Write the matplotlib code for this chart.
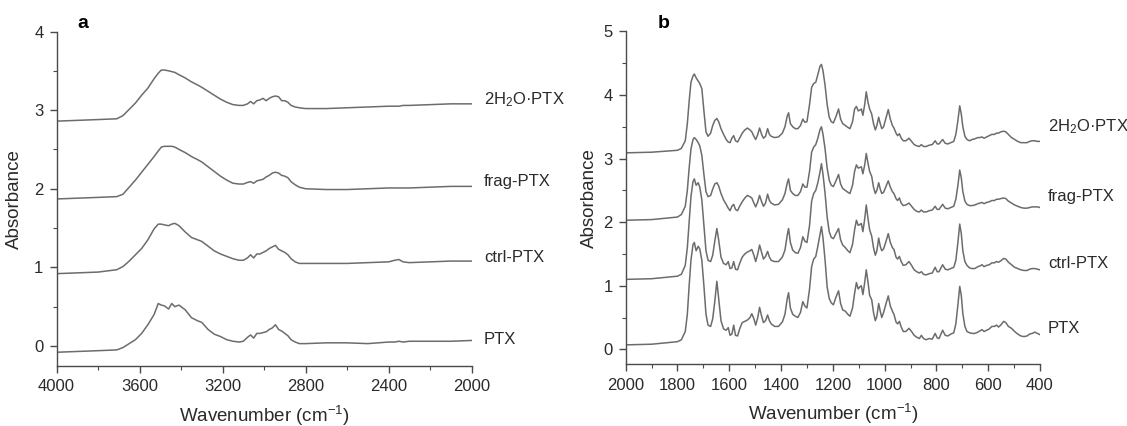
#!/usr/bin/env python
import matplotlib
matplotlib.use("Agg")
import matplotlib.pyplot as plt
from matplotlib.ticker import MultipleLocator

plt.rcParams['font.family'] = ['Liberation Sans', 'DejaVu Sans']
plt.rcParams['mathtext.default'] = 'regular'

# ---- panel a : 4000-2000 cm-1 ----
wn_a = [4000, 3900, 3800, 3710, 3680, 3650, 3620, 3590, 3560, 3530,
        3510, 3495, 3480, 3460, 3445, 3430, 3410, 3380, 3350, 3320,
        3300, 3270, 3240, 3210, 3180, 3150, 3120, 3100, 3080, 3065,
        3050, 3035, 3020, 3005, 2990, 2975, 2960, 2945, 2930, 2915,
        2900, 2885, 2870, 2850, 2830, 2800, 2700, 2600, 2500, 2400,
        2370, 2350, 2330, 2300, 2200, 2100, 2000]

ptx_a = [-0.08, -0.07, -0.06, -0.05, -0.02, 0.03, 0.08, 0.16, 0.27, 0.40,
         0.54, 0.52, 0.51, 0.47, 0.54, 0.50, 0.52, 0.46, 0.36, 0.32,
         0.30, 0.21, 0.15, 0.12, 0.08, 0.06, 0.05, 0.06, 0.11, 0.14,
         0.10, 0.16, 0.16, 0.17, 0.18, 0.21, 0.23, 0.27, 0.21, 0.19,
         0.16, 0.13, 0.08, 0.05, 0.03, 0.03, 0.04, 0.04, 0.03, 0.05,
         0.05, 0.06, 0.05, 0.06, 0.06, 0.06, 0.07]

ctrl_a = [0.92, 0.93, 0.94, 0.97, 1.01, 1.08, 1.16, 1.24, 1.35, 1.49,
          1.55, 1.55, 1.54, 1.53, 1.55, 1.56, 1.53, 1.45, 1.38, 1.35,
          1.33, 1.27, 1.21, 1.17, 1.14, 1.11, 1.09, 1.09, 1.12, 1.16,
          1.12, 1.17, 1.17, 1.19, 1.21, 1.24, 1.26, 1.28, 1.23, 1.21,
          1.19, 1.16, 1.11, 1.07, 1.05, 1.05, 1.05, 1.05, 1.06, 1.07,
          1.09, 1.10, 1.07, 1.06, 1.07, 1.08, 1.08]

frag_a = [1.87, 1.88, 1.89, 1.90, 1.93, 2.02, 2.11, 2.21, 2.31, 2.41,
          2.48, 2.53, 2.54, 2.54, 2.54, 2.53, 2.50, 2.46, 2.41, 2.37,
          2.34, 2.28, 2.22, 2.16, 2.11, 2.07, 2.06, 2.06, 2.08, 2.09,
          2.07, 2.10, 2.11, 2.12, 2.15, 2.17, 2.20, 2.21, 2.20, 2.17,
          2.16, 2.14, 2.09, 2.05, 2.02, 2.00, 1.99, 1.99, 2.00, 2.01,
          2.01, 2.01, 2.01, 2.01, 2.02, 2.03, 2.03]

h2o_a = [2.86, 2.87, 2.88, 2.89, 2.93, 3.01, 3.09, 3.19, 3.28, 3.40,
         3.47, 3.51, 3.51, 3.50, 3.49, 3.48, 3.45, 3.41, 3.36, 3.32,
         3.29, 3.24, 3.19, 3.14, 3.10, 3.07, 3.06, 3.06, 3.08, 3.11,
         3.08, 3.12, 3.13, 3.15, 3.12, 3.15, 3.17, 3.18, 3.17, 3.12,
         3.12, 3.10, 3.06, 3.04, 3.03, 3.02, 3.02, 3.03, 3.04, 3.05,
         3.05, 3.05, 3.06, 3.06, 3.07, 3.08, 3.08]

# ---- panel b : 2000-400 cm-1 ----
wn_b = [2000, 1900, 1800, 1785, 1770, 1762, 1755, 1748, 1740, 1735,
        1728, 1720, 1714, 1706, 1698, 1690, 1682, 1672, 1664, 1656,
        1648, 1641, 1632, 1622, 1612, 1604, 1597, 1590, 1583, 1576,
        1568, 1560, 1550, 1540, 1530, 1520, 1513, 1505, 1498, 1490,
        1483, 1475, 1468, 1460, 1452, 1445, 1438, 1425, 1410, 1395,
        1385, 1376, 1371, 1364, 1355, 1345, 1335, 1325, 1316, 1308,
        1300, 1290, 1282, 1274, 1266, 1258, 1250, 1244, 1238, 1230,
        1222, 1214, 1206, 1198, 1188, 1178, 1170, 1162, 1152, 1142,
        1134, 1124, 1116, 1109, 1102, 1096, 1090, 1084, 1077, 1071,
        1064, 1058, 1050, 1043, 1036, 1030, 1023, 1017, 1011, 1004,
        996, 986, 978, 970, 964, 956, 950, 943, 936, 928,
        918, 906, 896, 886, 876, 866, 858, 850, 840, 828,
        816, 805, 797, 790, 776, 766, 756, 744, 733, 725,
        717, 710, 704, 698, 690, 682, 672, 662, 652, 640,
        632, 624, 616, 606, 596, 586, 576, 568, 560, 552,
        540, 532, 522, 510, 498, 486, 474, 462, 450, 440,
        430, 420, 410, 400]

ptx_b = [0.07, 0.08, 0.12, 0.15, 0.28, 0.55, 1.00, 1.40, 1.65, 1.68,
         1.55, 1.62, 1.58, 1.40, 1.00, 0.55, 0.38, 0.36, 0.48, 0.75,
         1.07, 0.80, 0.45, 0.32, 0.30, 0.34, 0.22, 0.24, 0.38, 0.22,
         0.21, 0.32, 0.42, 0.44, 0.46, 0.50, 0.56, 0.48, 0.38, 0.50,
         0.66, 0.52, 0.42, 0.45, 0.54, 0.45, 0.40, 0.36, 0.36, 0.43,
         0.55, 0.80, 0.89, 0.65, 0.55, 0.52, 0.50, 0.58, 0.75, 0.68,
         0.65, 0.95, 1.30, 1.42, 1.46, 1.62, 1.80, 1.93, 1.75, 1.40,
         0.98, 0.80, 0.73, 0.70, 0.82, 0.92, 0.72, 0.62, 0.60, 0.55,
         0.52, 0.65, 0.88, 1.05, 0.95, 0.98, 1.00, 0.86, 1.05, 1.25,
         1.05, 0.85, 0.78, 0.58, 0.45, 0.52, 0.72, 0.60, 0.50, 0.58,
         0.70, 0.84, 0.68, 0.60, 0.55, 0.43, 0.40, 0.44, 0.35, 0.28,
         0.28, 0.33, 0.28, 0.22, 0.19, 0.17, 0.22, 0.17, 0.15, 0.17,
         0.16, 0.25, 0.18, 0.17, 0.30, 0.22, 0.21, 0.24, 0.26, 0.40,
         0.70, 0.99, 0.85, 0.56, 0.36, 0.28, 0.26, 0.25, 0.25, 0.27,
         0.29, 0.31, 0.28, 0.30, 0.32, 0.36, 0.36, 0.38, 0.35, 0.38,
         0.44, 0.42, 0.36, 0.33, 0.28, 0.24, 0.21, 0.20, 0.21, 0.24,
         0.25, 0.27, 0.25, 0.23]

ctrl_b = [1.10, 1.11, 1.15, 1.18, 1.32, 1.60, 2.00, 2.40, 2.64, 2.68,
          2.58, 2.62, 2.55, 2.35, 1.95, 1.55, 1.40, 1.38, 1.48, 1.70,
          1.90, 1.72, 1.45, 1.35, 1.33, 1.38, 1.27, 1.28, 1.38, 1.26,
          1.25, 1.35, 1.45, 1.50, 1.53, 1.55, 1.57, 1.48, 1.38, 1.50,
          1.64, 1.52, 1.42, 1.46, 1.54, 1.45, 1.40, 1.38, 1.38, 1.45,
          1.56, 1.80, 1.90, 1.68, 1.56, 1.52, 1.51, 1.60, 1.77, 1.70,
          1.68, 1.95, 2.33, 2.45, 2.50, 2.62, 2.78, 2.92, 2.75, 2.45,
          2.08, 1.85, 1.76, 1.74, 1.82, 1.90, 1.72, 1.64, 1.60, 1.55,
          1.52, 1.65, 1.88, 2.03, 1.95, 1.96, 1.98, 1.85, 2.05, 2.27,
          2.05, 1.88, 1.78, 1.60, 1.48, 1.55, 1.75, 1.62, 1.55, 1.58,
          1.68, 1.82, 1.68, 1.60, 1.57, 1.45, 1.42, 1.46, 1.38, 1.32,
          1.33, 1.38, 1.32, 1.25, 1.22, 1.20, 1.22, 1.18, 1.17, 1.19,
          1.20, 1.29, 1.22, 1.22, 1.33, 1.26, 1.25, 1.27, 1.29, 1.40,
          1.68, 1.97, 1.82, 1.55, 1.38, 1.32, 1.28, 1.27, 1.27, 1.30,
          1.31, 1.33, 1.30, 1.32, 1.33, 1.36, 1.36, 1.38, 1.37, 1.39,
          1.43, 1.42, 1.37, 1.33, 1.29, 1.27, 1.25, 1.24, 1.24, 1.26,
          1.27, 1.27, 1.26, 1.25]

frag_b = [2.03, 2.04, 2.08, 2.12, 2.25, 2.50, 2.85, 3.15, 3.30, 3.33,
          3.30, 3.25, 3.20, 3.05, 2.75, 2.48, 2.40, 2.42, 2.52, 2.60,
          2.62, 2.57, 2.45, 2.35, 2.28, 2.22, 2.18, 2.25, 2.28, 2.20,
          2.18, 2.25, 2.32, 2.38, 2.42, 2.40, 2.38, 2.30, 2.24, 2.32,
          2.42, 2.32, 2.25, 2.30, 2.44, 2.34, 2.30, 2.27, 2.28, 2.35,
          2.45, 2.62, 2.68, 2.50, 2.45, 2.42, 2.42, 2.48, 2.60, 2.55,
          2.55, 2.80, 3.10, 3.18, 3.22, 3.32, 3.45, 3.50, 3.38, 3.15,
          2.85, 2.66, 2.58, 2.56, 2.65, 2.75, 2.60, 2.53, 2.50, 2.47,
          2.45, 2.58, 2.80, 2.90, 2.85, 2.86, 2.87, 2.76, 2.90, 3.08,
          2.92, 2.80, 2.72, 2.55, 2.45, 2.50, 2.62, 2.52, 2.45, 2.47,
          2.55, 2.65, 2.55, 2.48, 2.45, 2.37, 2.34, 2.38, 2.30, 2.26,
          2.27, 2.30, 2.25, 2.20, 2.17, 2.16, 2.19, 2.16, 2.16, 2.18,
          2.19, 2.25, 2.20, 2.20, 2.28, 2.22, 2.21, 2.23, 2.25, 2.36,
          2.58, 2.82, 2.70, 2.48, 2.33, 2.28, 2.26, 2.26, 2.27, 2.29,
          2.30, 2.31, 2.29, 2.31, 2.32, 2.34, 2.34, 2.36, 2.36, 2.37,
          2.38, 2.37, 2.33, 2.30, 2.27, 2.25, 2.23, 2.22, 2.22, 2.23,
          2.24, 2.24, 2.24, 2.23]

h2o_b = [3.09, 3.10, 3.13, 3.16, 3.28, 3.55, 3.90, 4.20, 4.30, 4.33,
         4.27, 4.22, 4.18, 4.10, 3.75, 3.42, 3.35, 3.40, 3.52, 3.60,
         3.63, 3.58, 3.47, 3.38, 3.30, 3.26, 3.25, 3.32, 3.36, 3.28,
         3.26, 3.32, 3.40, 3.45, 3.48, 3.45, 3.42, 3.35, 3.30, 3.38,
         3.48, 3.38, 3.32, 3.35, 3.47, 3.38, 3.35, 3.33, 3.34, 3.40,
         3.50, 3.67, 3.72, 3.55, 3.50, 3.47, 3.47, 3.52, 3.62, 3.57,
         3.58, 3.85, 4.12, 4.18, 4.20, 4.32, 4.45, 4.48, 4.38, 4.15,
         3.85, 3.65, 3.58, 3.56, 3.66, 3.78, 3.62, 3.55, 3.52, 3.49,
         3.47, 3.58, 3.78, 3.82, 3.75, 3.76, 3.78, 3.68, 3.85, 4.05,
         3.88, 3.78, 3.70, 3.55, 3.45, 3.52, 3.65, 3.55, 3.47, 3.50,
         3.62, 3.77, 3.62, 3.52, 3.48, 3.40, 3.36, 3.39, 3.32, 3.28,
         3.28, 3.32, 3.27, 3.22, 3.20, 3.19, 3.22, 3.19, 3.19, 3.21,
         3.22, 3.28, 3.23, 3.23, 3.30, 3.24, 3.23, 3.25, 3.27, 3.38,
         3.60, 3.83, 3.70, 3.50, 3.35, 3.30, 3.28, 3.30, 3.31, 3.33,
         3.33, 3.34, 3.32, 3.34, 3.36, 3.38, 3.38, 3.40, 3.40, 3.42,
         3.43, 3.42, 3.38, 3.33, 3.30, 3.27, 3.25, 3.25, 3.25, 3.27,
         3.28, 3.28, 3.27, 3.27]

names = ['PTX', 'ctrl-PTX', 'frag-PTX', '2H$_2$O·PTX']
label_y_a = [0.08, 1.12, 2.09, 3.13]
label_y_b = [0.33, 1.35, 2.40, 3.50]

line_col = '#6c6c6c'
spine_col = '#4a4a4a'
text_col = '#2a2a2a'

fig = plt.figure(figsize=(11.27, 4.26), dpi=100)
ax1 = fig.add_axes([0.0502, 0.1408, 0.3682, 0.7852])
ax2 = fig.add_axes([0.5552, 0.1448, 0.3676, 0.7815])

for y in [ptx_a, ctrl_a, frag_a, h2o_a]:
	ax1.plot(wn_a, y, color=line_col, lw=1.1)
for y in [ptx_b, ctrl_b, frag_b, h2o_b]:
	ax2.plot(wn_b, y, color=line_col, lw=1.1)

ax1.set_xlim(4000, 2000)
ax1.set_ylim(-0.255, 4)
ax1.xaxis.set_major_locator(MultipleLocator(400))
ax1.xaxis.set_minor_locator(MultipleLocator(200))

ax2.set_xlim(2000, 400)
ax2.set_ylim(-0.236, 5)
ax2.xaxis.set_major_locator(MultipleLocator(200))
ax2.xaxis.set_minor_locator(MultipleLocator(100))

for ax in (ax1, ax2):
	ax.yaxis.set_major_locator(MultipleLocator(1))
	ax.yaxis.set_minor_locator(MultipleLocator(0.5))
	ax.spines['top'].set_visible(False)
	ax.spines['right'].set_visible(False)
	for s in ('left', 'bottom'):
		ax.spines[s].set_color(spine_col)
		ax.spines[s].set_linewidth(1.0)
	ax.tick_params(which='major', direction='out', length=5, width=1.0,
		color=spine_col, labelsize=12, labelcolor=text_col, pad=4.5)
	ax.tick_params(which='minor', direction='out', length=3, width=0.8,
		color=spine_col)
	ax.set_ylabel('Absorbance', fontsize=13.5, color=text_col)
	ax.set_xlabel('Wavenumber (cm$^{-1}$)', fontsize=13.5, color=text_col)
	ax.xaxis.set_label_coords(0.5, -0.112)

ax1.yaxis.set_label_coords(-0.082, 0.5)
ax2.yaxis.set_label_coords(-0.068, 0.5)

for n, y in zip(names, label_y_a):
	ax1.text(1.03, y, n, transform=ax1.get_yaxis_transform(), va='center',
		ha='left', fontsize=12, color=text_col)
for n, y in zip(names, label_y_b):
	ax2.text(1.019, y, n, transform=ax2.get_yaxis_transform(), va='center',
		ha='left', fontsize=12, color=text_col)

ax1.text(0.064, 1.025, 'a', transform=ax1.transAxes, fontsize=14,
	fontweight='bold', ha='center', va='center')
ax2.text(0.091, 1.024, 'b', transform=ax2.transAxes, fontsize=14,
	fontweight='bold', ha='center', va='center')

fig.savefig('out.png', dpi=100)
plt.close()
